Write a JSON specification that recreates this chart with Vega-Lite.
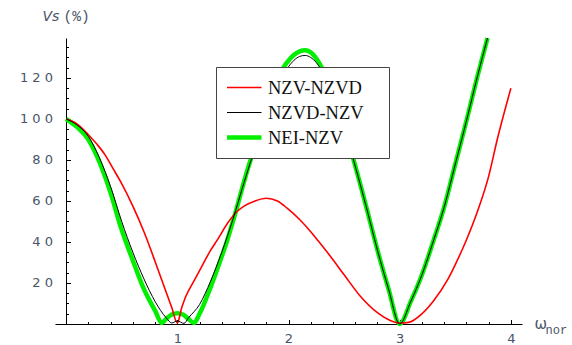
{
  "$schema": "https://vega.github.io/schema/vega-lite/v6.json",
  "width": 467,
  "height": 286,
  "autosize": {"type": "none"},
  "padding": {"left": 55, "top": 38, "right": 50, "bottom": 21},
  "background": "white",
  "config": {"view": {"stroke": null}, "axis": {"grid": false}},
  "datasets": {
    "curves": [
      {"s": "NEI-NZV", "x": 0, "y": 100},
      {"s": "NEI-NZV", "x": 0.1, "y": 96},
      {"s": "NEI-NZV", "x": 0.2, "y": 90},
      {"s": "NEI-NZV", "x": 0.25, "y": 85},
      {"s": "NEI-NZV", "x": 0.3, "y": 79},
      {"s": "NEI-NZV", "x": 0.4, "y": 64},
      {"s": "NEI-NZV", "x": 0.49, "y": 47.5},
      {"s": "NEI-NZV", "x": 0.6, "y": 31},
      {"s": "NEI-NZV", "x": 0.7, "y": 17},
      {"s": "NEI-NZV", "x": 0.8, "y": 6.5},
      {"s": "NEI-NZV", "x": 0.86, "y": 0.5},
      {"s": "NEI-NZV", "x": 0.9, "y": 2.5},
      {"s": "NEI-NZV", "x": 0.95, "y": 4.6},
      {"s": "NEI-NZV", "x": 1.0, "y": 5.3},
      {"s": "NEI-NZV", "x": 1.05, "y": 4.6},
      {"s": "NEI-NZV", "x": 1.1, "y": 2.5},
      {"s": "NEI-NZV", "x": 1.15, "y": 0.5},
      {"s": "NEI-NZV", "x": 1.2, "y": 5},
      {"s": "NEI-NZV", "x": 1.3, "y": 18},
      {"s": "NEI-NZV", "x": 1.4, "y": 33},
      {"s": "NEI-NZV", "x": 1.45, "y": 41},
      {"s": "NEI-NZV", "x": 1.5, "y": 50},
      {"s": "NEI-NZV", "x": 1.63, "y": 75},
      {"s": "NEI-NZV", "x": 1.7, "y": 87},
      {"s": "NEI-NZV", "x": 1.8, "y": 104},
      {"s": "NEI-NZV", "x": 1.9, "y": 118},
      {"s": "NEI-NZV", "x": 1.96, "y": 125.5},
      {"s": "NEI-NZV", "x": 2.0, "y": 128.5},
      {"s": "NEI-NZV", "x": 2.1, "y": 133},
      {"s": "NEI-NZV", "x": 2.15, "y": 133.5},
      {"s": "NEI-NZV", "x": 2.2, "y": 132.5},
      {"s": "NEI-NZV", "x": 2.3, "y": 125},
      {"s": "NEI-NZV", "x": 2.4, "y": 112},
      {"s": "NEI-NZV", "x": 2.5, "y": 96},
      {"s": "NEI-NZV", "x": 2.577, "y": 81.6},
      {"s": "NEI-NZV", "x": 2.7, "y": 57},
      {"s": "NEI-NZV", "x": 2.8, "y": 36},
      {"s": "NEI-NZV", "x": 2.9, "y": 17},
      {"s": "NEI-NZV", "x": 3.0, "y": 0},
      {"s": "NEI-NZV", "x": 3.1, "y": 11},
      {"s": "NEI-NZV", "x": 3.2, "y": 24},
      {"s": "NEI-NZV", "x": 3.3, "y": 40},
      {"s": "NEI-NZV", "x": 3.4, "y": 57},
      {"s": "NEI-NZV", "x": 3.5, "y": 78},
      {"s": "NEI-NZV", "x": 3.6, "y": 99},
      {"s": "NEI-NZV", "x": 3.7, "y": 121},
      {"s": "NEI-NZV", "x": 3.79, "y": 139.5},

      {"s": "NZV-NZVD", "x": 0, "y": 100},
      {"s": "NZV-NZVD", "x": 0.05, "y": 99},
      {"s": "NZV-NZVD", "x": 0.1, "y": 97.5},
      {"s": "NZV-NZVD", "x": 0.16, "y": 94.6},
      {"s": "NZV-NZVD", "x": 0.2, "y": 92.3},
      {"s": "NZV-NZVD", "x": 0.28, "y": 87.5},
      {"s": "NZV-NZVD", "x": 0.35, "y": 82.5},
      {"s": "NZV-NZVD", "x": 0.42, "y": 76},
      {"s": "NZV-NZVD", "x": 0.49, "y": 69.4},
      {"s": "NZV-NZVD", "x": 0.6, "y": 57.5},
      {"s": "NZV-NZVD", "x": 0.7, "y": 45},
      {"s": "NZV-NZVD", "x": 0.76, "y": 36.5},
      {"s": "NZV-NZVD", "x": 0.8, "y": 30.5},
      {"s": "NZV-NZVD", "x": 0.9, "y": 15.5},
      {"s": "NZV-NZVD", "x": 0.95, "y": 8},
      {"s": "NZV-NZVD", "x": 1.0, "y": 0.5},
      {"s": "NZV-NZVD", "x": 1.04, "y": 8},
      {"s": "NZV-NZVD", "x": 1.075, "y": 13.3},
      {"s": "NZV-NZVD", "x": 1.15, "y": 21},
      {"s": "NZV-NZVD", "x": 1.2, "y": 26},
      {"s": "NZV-NZVD", "x": 1.3, "y": 36},
      {"s": "NZV-NZVD", "x": 1.36, "y": 41},
      {"s": "NZV-NZVD", "x": 1.45, "y": 49},
      {"s": "NZV-NZVD", "x": 1.54, "y": 55},
      {"s": "NZV-NZVD", "x": 1.6, "y": 57.5},
      {"s": "NZV-NZVD", "x": 1.7, "y": 60},
      {"s": "NZV-NZVD", "x": 1.8, "y": 61.3},
      {"s": "NZV-NZVD", "x": 1.9, "y": 60},
      {"s": "NZV-NZVD", "x": 1.99, "y": 56.4},
      {"s": "NZV-NZVD", "x": 2.1, "y": 51},
      {"s": "NZV-NZVD", "x": 2.2, "y": 45},
      {"s": "NZV-NZVD", "x": 2.26, "y": 41},
      {"s": "NZV-NZVD", "x": 2.38, "y": 32.8},
      {"s": "NZV-NZVD", "x": 2.5, "y": 24},
      {"s": "NZV-NZVD", "x": 2.65, "y": 13.3},
      {"s": "NZV-NZVD", "x": 2.8, "y": 5.5},
      {"s": "NZV-NZVD", "x": 2.92, "y": 1.6},
      {"s": "NZV-NZVD", "x": 3.0, "y": 0.5},
      {"s": "NZV-NZVD", "x": 3.08, "y": 0.8},
      {"s": "NZV-NZVD", "x": 3.2, "y": 5},
      {"s": "NZV-NZVD", "x": 3.3, "y": 11},
      {"s": "NZV-NZVD", "x": 3.43, "y": 21.5},
      {"s": "NZV-NZVD", "x": 3.5, "y": 29},
      {"s": "NZV-NZVD", "x": 3.6, "y": 41},
      {"s": "NZV-NZVD", "x": 3.7, "y": 55},
      {"s": "NZV-NZVD", "x": 3.8, "y": 72},
      {"s": "NZV-NZVD", "x": 3.88, "y": 90.6},
      {"s": "NZV-NZVD", "x": 4.0, "y": 115},

      {"s": "NZVD-NZV", "x": 0, "y": 100},
      {"s": "NZVD-NZV", "x": 0.1, "y": 97},
      {"s": "NZVD-NZV", "x": 0.2, "y": 91.5},
      {"s": "NZVD-NZV", "x": 0.3, "y": 81},
      {"s": "NZVD-NZV", "x": 0.4, "y": 67},
      {"s": "NZVD-NZV", "x": 0.5, "y": 50},
      {"s": "NZVD-NZV", "x": 0.6, "y": 35},
      {"s": "NZVD-NZV", "x": 0.7, "y": 22},
      {"s": "NZVD-NZV", "x": 0.8, "y": 11},
      {"s": "NZVD-NZV", "x": 0.9, "y": 3},
      {"s": "NZVD-NZV", "x": 0.95, "y": 0.5},
      {"s": "NZVD-NZV", "x": 1.0, "y": 1.5},
      {"s": "NZVD-NZV", "x": 1.06, "y": 0.3},
      {"s": "NZVD-NZV", "x": 1.1, "y": 3},
      {"s": "NZVD-NZV", "x": 1.2, "y": 9.5},
      {"s": "NZVD-NZV", "x": 1.3, "y": 21},
      {"s": "NZVD-NZV", "x": 1.4, "y": 35},
      {"s": "NZVD-NZV", "x": 1.5, "y": 51},
      {"s": "NZVD-NZV", "x": 1.6, "y": 69},
      {"s": "NZVD-NZV", "x": 1.7, "y": 86},
      {"s": "NZVD-NZV", "x": 1.8, "y": 102},
      {"s": "NZVD-NZV", "x": 1.9, "y": 116},
      {"s": "NZVD-NZV", "x": 2.0, "y": 125.5},
      {"s": "NZVD-NZV", "x": 2.1, "y": 130.5},
      {"s": "NZVD-NZV", "x": 2.15, "y": 131},
      {"s": "NZVD-NZV", "x": 2.2, "y": 130},
      {"s": "NZVD-NZV", "x": 2.3, "y": 123.5},
      {"s": "NZVD-NZV", "x": 2.4, "y": 111},
      {"s": "NZVD-NZV", "x": 2.5, "y": 95.5},
      {"s": "NZVD-NZV", "x": 2.6, "y": 77},
      {"s": "NZVD-NZV", "x": 2.7, "y": 57},
      {"s": "NZVD-NZV", "x": 2.8, "y": 36},
      {"s": "NZVD-NZV", "x": 2.9, "y": 17},
      {"s": "NZVD-NZV", "x": 3.0, "y": 0},
      {"s": "NZVD-NZV", "x": 3.1, "y": 11},
      {"s": "NZVD-NZV", "x": 3.2, "y": 24},
      {"s": "NZVD-NZV", "x": 3.3, "y": 40},
      {"s": "NZVD-NZV", "x": 3.4, "y": 57},
      {"s": "NZVD-NZV", "x": 3.5, "y": 78},
      {"s": "NZVD-NZV", "x": 3.6, "y": 99},
      {"s": "NZVD-NZV", "x": 3.7, "y": 121},
      {"s": "NZVD-NZV", "x": 3.79, "y": 139.5}
    ]
  },
  "layer": [
    {
      "data": {"name": "curves"},
      "transform": [{"filter": "datum.s === 'NEI-NZV'"}],
      "mark": {"type": "line", "interpolate": "monotone", "strokeWidth": 4.5},
      "encoding": {
        "x": {
          "field": "x", "type": "quantitative",
          "scale": {"domain": [-0.1, 4.1], "nice": false, "zero": false},
          "axis": {
            "orient": "bottom",
            "values": [0.2, 0.4, 0.6, 0.8, 1.2, 1.4, 1.6, 1.8, 2.2, 2.4, 2.6, 2.8, 3.2, 3.4, 3.6, 3.8, 4.0],
            "labels": false, "domain": false, "tickSize": -2.5, "tickColor": "#000",
            "title": "nor", "titleFont": "Liberation Mono", "titleFontSize": 12, "titleFontWeight": "normal",
            "titleColor": "#4a5468", "titleAlign": "left", "titleBaseline": "alphabetic",
            "titleX": 490, "titleY": 9
          }
        },
        "y": {
          "field": "y", "type": "quantitative",
          "scale": {"domain": [0, 139.5], "nice": false, "zero": false},
          "axis": {
            "orient": "left", "offset": -11,
            "values": [5, 10, 15, 25, 30, 35, 45, 50, 55, 65, 70, 75, 85, 90, 95, 105, 110, 115, 125, 130, 135],
            "labels": false, "domain": false, "tickSize": -2.5, "tickColor": "#000",
            "title": "(%)", "titleFont": "Liberation Mono", "titleFontSize": 14.5, "titleFontWeight": "normal",
            "titleColor": "#4a5468", "titleAngle": 0, "titleAlign": "left", "titleBaseline": "alphabetic",
            "titleX": -3, "titleY": -18
          }
        },
        "color": {
          "field": "s", "type": "nominal",
          "scale": {"domain": ["NZV-NZVD", "NZVD-NZV", "NEI-NZV"], "range": ["#ff0000", "#000000", "#00f000"]},
          "legend": {
            "orient": "none", "legendX": 161, "legendY": 29, "title": null,
            "symbolType": "stroke", "symbolSize": 1681, "symbolStrokeWidth": 1.5, "symbolOffset": -7,
            "labelFont": "Liberation Serif", "labelFontSize": 18.5, "labelColor": "#111", "labelBaseline": "middle",
            "labelOffset": 6, "padding": 11, "rowPadding": 6, "clipHeight": 19,
            "strokeColor": "#444", "fillColor": "white",
            "labelExpr": "datum.label + '\u2800'",
            "encode": {"symbols": {"update": {"strokeWidth": {"signal": "(datum.value === 'NEI-NZV' ? 4.5 : (datum.value === 'NZV-NZVD' ? 1.6 : 1))"}}}}
          }
        }
      }
    },
    {
      "data": {"name": "curves"},
      "transform": [{"filter": "datum.s !== 'NEI-NZV'"}],
      "mark": {"type": "line", "interpolate": "monotone"},
      "encoding": {
        "x": {
          "field": "x", "type": "quantitative",
          "scale": {"domain": [-0.1, 4.1], "nice": false, "zero": false},
          "axis": {
            "orient": "bottom", "values": [1, 2, 3, 4], "format": "d",
            "tickSize": -4.5, "tickColor": "#000", "domainColor": "#000",
            "labelFont": "DejaVu Sans", "labelFontSize": 13, "labelColor": "#4a5468", "labelPadding": 13,
            "title": "ω", "titleFont": "DejaVu Sans", "titleFontSize": 15, "titleFontWeight": "normal",
            "titleColor": "#4a5468", "titleAlign": "left", "titleBaseline": "alphabetic",
            "titleX": 479, "titleY": 4
          }
        },
        "y": {
          "field": "y", "type": "quantitative",
          "scale": {"domain": [0, 139.5], "nice": false, "zero": false},
          "axis": {
            "orient": "left", "offset": -11,
            "values": [20, 40, 60, 80, 100, 120],
            "labelExpr": "join(split(datum.label, ''), ' ')",
            "tickSize": -4.5, "tickColor": "#000", "domainColor": "#000",
            "labelFont": "DejaVu Sans", "labelFontSize": 13, "labelColor": "#4a5468", "labelPadding": 18,
            "title": "Vs", "titleFont": "DejaVu Sans", "titleFontSize": 14, "titleFontStyle": "italic", "titleFontWeight": "normal",
            "titleColor": "#4a5468", "titleAngle": 0, "titleAlign": "left", "titleBaseline": "alphabetic",
            "titleX": -24, "titleY": -18
          }
        },
        "color": {"field": "s", "type": "nominal"},
        "strokeWidth": {
          "field": "s", "type": "nominal",
          "scale": {"domain": ["NZV-NZVD", "NZVD-NZV"], "range": [1.6, 1]},
          "legend": null
        }
      }
    }
  ],
  "resolve": {
    "scale": {"x": "independent", "y": "independent"},
    "axis": {"x": "independent", "y": "independent"}
  }
}
